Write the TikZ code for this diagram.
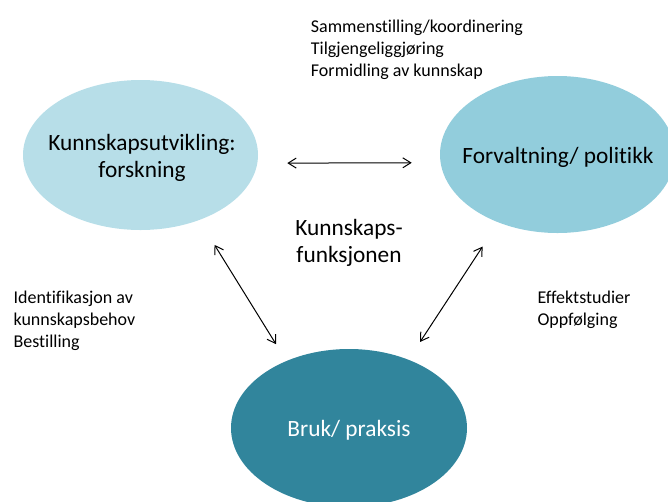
\documentclass[tikz,border=0pt]{standalone}
\usepackage{fontspec}
\setmainfont{Carlito}[Ligatures=NoCommon]
\usetikzlibrary{arrows.meta,shapes.geometric}
\definecolor{aqualight}{HTML}{B7DEE8}
\definecolor{aquamid}{HTML}{92CDDC}
\definecolor{aquadark}{HTML}{31859C}

\begin{document}
\begin{tikzpicture}[x=0.75pt,y=-0.75pt,
        bubble/.style={ellipse,draw=none,inner sep=0pt},
        big/.style={font=\fontsize{17.5}{20}\selectfont,align=center,inner sep=0pt},
        small/.style={font=\fontsize{13.5}{16.5}\selectfont,align=left,inner sep=0pt,anchor=north west},
        link/.style={{Straight Barb[length=6pt,width=7.5pt]}-{Straight Barb[length=6pt,width=7.5pt]},line width=0.75pt}]
        % frame
        \clip (0,0) rectangle (668,501);
        % bubbles
        \node[bubble,fill=aqualight,minimum width=176.25pt,minimum height=112.5pt] (forsk) at (140.5,155) {};
        \node[bubble,fill=aquamid,minimum width=176.25pt,minimum height=117.75pt] (forv) at (557.5,154.5) {};
        \node[bubble,fill=aquadark,minimum width=177pt,minimum height=118.5pt] (bruk) at (349,428) {};
        % arrows
        \draw[link,shorten <=22.3pt,shorten >=21.5pt] (forsk.-4) -- (forv.184);
        \draw[link,shorten <=21.75pt,shorten >=14.6pt] (forsk.-48.8) -- (bruk.133.8);
        \draw[link,shorten <=21.5pt,shorten >=15.75pt] (forv.229) -- (bruk.49);
        % text
        \node[big] (forsktxt) at (142,158) {Kunnskapsutvikling:\\forskning};
        \node[big] (forvtxt) at (558,157) {Forvaltning/ politikk};
        \node[big,text=white] (bruktxt) at (349,430.5) {Bruk/ praksis};
        \node[big] (midtxt) at (349,243) {Kunnskaps-\\funksjonen};
        \node[small] (toptxt) at (310.7,19.7) {Sammenstilling/koordinering\\Tilgjengeliggjøring\\Formidling av kunnskap};
        \node[small] (lefttxt) at (13.3,290.3) {Identifikasjon av\\kunnskapsbehov\\Bestilling};
        \node[small] (righttxt) at (537.3,290.3) {Effektstudier\\Oppfølging};
    \end{tikzpicture}
\end{document}
